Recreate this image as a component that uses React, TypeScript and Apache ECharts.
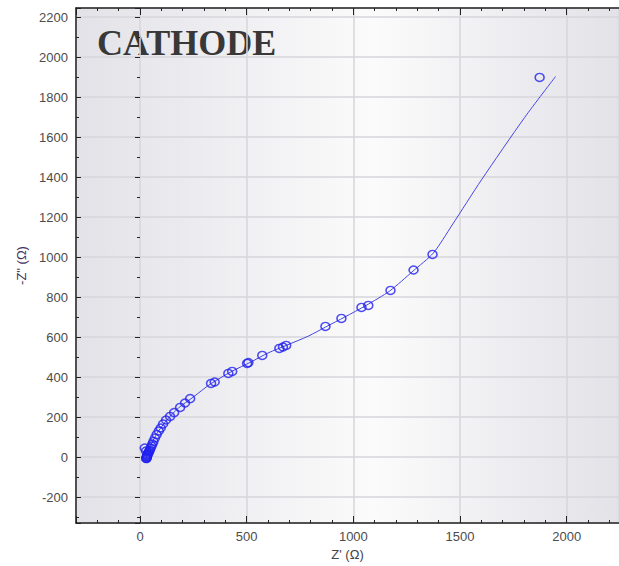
import React, { useEffect, useRef } from "react";
import * as echarts from "echarts";

// Measured impedance points: Z' (Ω), -Z'' (Ω)
const measuredRe = [30, 31, 32, 33, 34, 29, 35, 37, 22, 28, 40, 43, 46, 50, 54, 58, 63, 70, 78, 88, 97, 108, 122, 141, 160, 188, 211, 235, 333, 350, 414, 432, 502, 508, 573, 653, 670, 685, 869, 944, 1038, 1070, 1174, 1282, 1371, 1873];
const measuredIm = [-8, -4, 0, 4, 8, -6, 12, 17, 45, 30, 22, 28, 35, 45, 55, 65, 78, 95, 112, 130, 145, 165, 185, 203, 222, 248, 270, 292, 368, 375, 418, 428, 468, 472, 508, 543, 550, 558, 653, 693, 748, 758, 833, 935, 1013, 1898];

// Fitted curve: Z' (Ω), -Z'' (Ω)
const fitRe = [28, 32, 40, 60, 90, 130, 180, 250, 330, 430, 520, 600, 690, 790, 870, 960, 1060, 1170, 1280, 1375, 1463, 1600, 1803, 1948];
const fitIm = [-20, 10, 35, 80, 135, 190, 245, 300, 365, 428, 475, 520, 560, 605, 650, 700, 758, 830, 930, 1020, 1160, 1385, 1698, 1903];

const xRange = [-300, 2245];
const yRange = [-330, 2245];

const titleText = "CATHODE";
const xName = "Z' (Ω)";
const yName = '-Z" (Ω)';

export default function App() {
  const ref = useRef<HTMLDivElement>(null);

  useEffect(() => {
    if (!ref.current) return;
    const chart = echarts.init(ref.current, null, { renderer: "svg" });
    const measured = measuredRe.map((x, i) => [x, measuredIm[i]]);
    const fit = fitRe.map((x, i) => [x, fitIm[i]]);
    const labelStyle = {
      color: "#4c4c4c",
      fontSize: 13,
      fontFamily: "Liberation Sans, Arial, sans-serif",
      formatter: (v: number) => String(v),
    };
    const tickColor = "#222";
    chart.setOption({
      animation: false,
      grid: {
        left: 76,
        top: 8,
        right: 0,
        bottom: 43,
        show: true,
        borderWidth: 0,
        backgroundColor: {
          type: "linear",
          x: 0,
          y: 0,
          x2: 1,
          y2: 0,
          colorStops: [
            { offset: 0, color: "#e2e2e8" },
            { offset: 0.55, color: "#fbfbfb" },
            { offset: 1, color: "#e2e2e8" },
          ],
        },
      },
      graphic: [
        {
          type: "text",
          left: 97,
          top: 25,
          style: {
            text: titleText,
            font: 'bold 36px "Liberation Serif", serif',
            fill: "#383838",
          },
        },
      ],
      xAxis: [
        {
          type: "value",
          min: xRange[0],
          max: xRange[1],
          splitNumber: 5,
          position: "bottom",
          name: xName,
          nameLocation: "middle",
          nameGap: 24,
          nameTextStyle: { color: "#444", fontSize: 13, fontFamily: "Liberation Sans, Arial, sans-serif" },
          axisLine: { show: true, onZero: false, lineStyle: { color: tickColor, width: 1.5 } },
          axisTick: { show: true, inside: true, length: 7, lineStyle: { color: tickColor } },
          minorTick: { show: true, splitNumber: 5, length: 3, lineStyle: { color: tickColor } },
          axisLabel: { ...labelStyle, margin: 7, showMinLabel: false, showMaxLabel: false },
          splitLine: { show: true, lineStyle: { color: "#d6d6db", width: 1.5 } },
        },
        {
          type: "value",
          min: xRange[0],
          max: xRange[1],
          splitNumber: 5,
          position: "top",
          axisLine: { show: true, onZero: false, lineStyle: { color: tickColor, width: 1.5 } },
          axisTick: { show: true, inside: true, length: 7, lineStyle: { color: tickColor } },
          minorTick: { show: true, splitNumber: 5, length: 3, lineStyle: { color: tickColor } },
          axisLabel: { show: false },
          splitLine: { show: false },
        },
      ],
      yAxis: [
        {
          type: "value",
          min: yRange[0],
          max: yRange[1],
          splitNumber: 13,
          position: "left",
          name: yName,
          nameLocation: "middle",
          nameGap: 48,
          nameRotate: 90,
          nameTextStyle: { color: "#3f3160", fontSize: 13, fontFamily: "Liberation Sans, Arial, sans-serif" },
          axisLine: { show: true, onZero: false, lineStyle: { color: tickColor, width: 1.5 } },
          axisTick: { show: true, inside: true, length: 5, lineStyle: { color: tickColor } },
          minorTick: { show: true, splitNumber: 2, length: 3, lineStyle: { color: tickColor } },
          axisLabel: { ...labelStyle, margin: 8, showMinLabel: false, showMaxLabel: false },
          splitLine: { show: true, lineStyle: { color: "#d6d6db", width: 1.5 } },
        },
        {
          type: "value",
          min: yRange[0],
          max: yRange[1],
          splitNumber: 13,
          position: "right",
          axisLine: { show: false },
          axisTick: { show: true, inside: true, length: 5, lineStyle: { color: tickColor } },
          minorTick: { show: true, splitNumber: 2, length: 3, lineStyle: { color: tickColor } },
          axisLabel: { show: false },
          splitLine: { show: false },
        },
      ],
      series: [
        {
          type: "line",
          data: fit,
          xAxisIndex: 0,
          yAxisIndex: 0,
          showSymbol: false,
          symbol: "none",
          smooth: 0.25,
          lineStyle: { color: "#4646e6", width: 1 },
          z: 2,
        },
        {
          type: "scatter",
          data: measured,
          xAxisIndex: 0,
          yAxisIndex: 0,
          symbol: "circle",
          symbolSize: [9, 8],
          itemStyle: {
            color: "rgba(0,0,0,0)",
            borderColor: "#2020f0",
            borderWidth: 1.5,
          },
          z: 3,
        },
      ],
    });
    return () => chart.dispose();
  }, []);

  return (
    <div
      ref={ref}
      style={{ position: "fixed", left: 0, top: 0, width: 619, height: 566, background: "#fff" }}
    />
  );
}
